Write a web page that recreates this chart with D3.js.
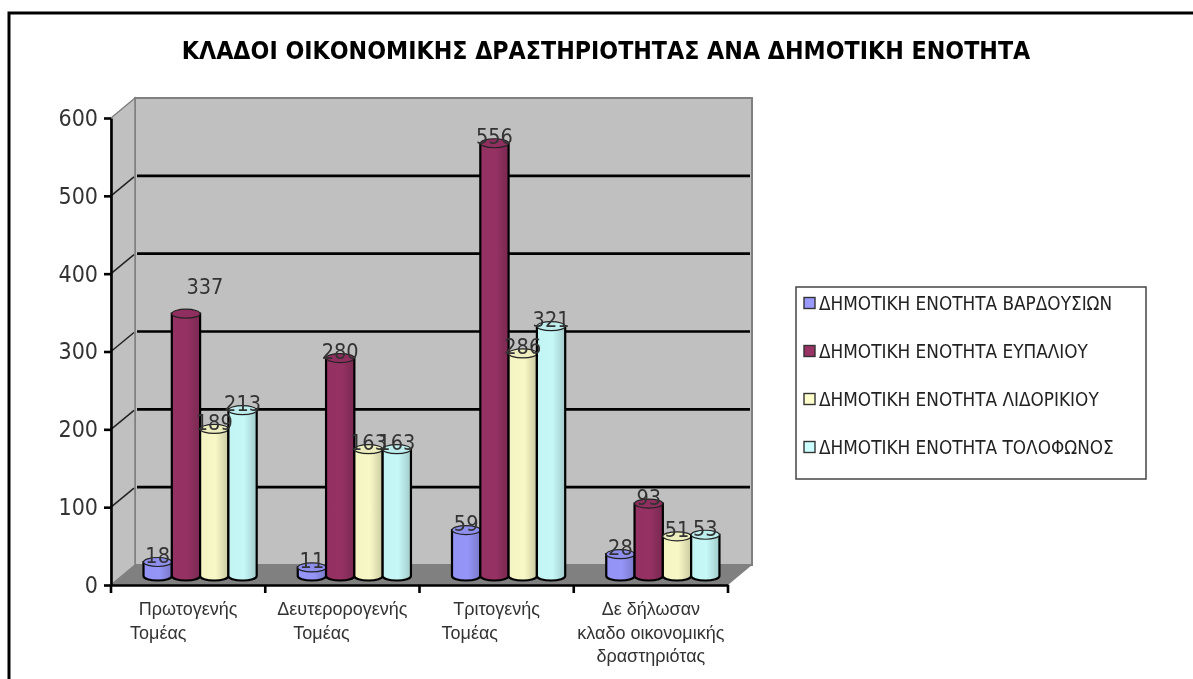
<!DOCTYPE html>
<html>
<head>
<meta charset="utf-8">
<script src="https://cdn.jsdelivr.net/npm/d3@7"></script>
<style>
  html, body { margin: 0; padding: 0; background: #fff; overflow: hidden; }
  svg { display: block; font-family: "DejaVu Sans Condensed", "DejaVu Sans", sans-serif; filter: blur(0.4px); }
</style>
</head>
<body>
<svg width="1193" height="679"></svg>
<script>
const titleText = 'ΚΛΑΔΟΙ ΟΙΚΟΝΟΜΙΚΗΣ ΔΡΑΣΤΗΡΙΟΤΗΤΑΣ ΑΝΑ ΔΗΜΟΤΙΚΗ ΕΝΟΤΗΤΑ';
const categories = ['Πρωτογενής Τομέας', 'Δευτερορογενής Τομέας', 'Τριτογενής Τομέας', 'Δε δήλωσαν κλαδο οικονομικής δραστηριότας'];
const categoryLines = [
  ['Πρωτογενής', 'Τομέας'],
  ['Δευτερορογενής', 'Τομέας'],
  ['Τριτογενής', 'Τομέας'],
  ['Δε δήλωσαν', 'κλαδο οικονομικής', 'δραστηριότας']
];
const seriesNames = [
  'ΔΗΜΟΤΙΚΗ ΕΝΟΤΗΤΑ ΒΑΡΔΟΥΣΙΩΝ',
  'ΔΗΜΟΤΙΚΗ ΕΝΟΤΗΤΑ ΕΥΠΑΛΙΟΥ',
  'ΔΗΜΟΤΙΚΗ ΕΝΟΤΗΤΑ ΛΙΔΟΡΙΚΙΟΥ',
  'ΔΗΜΟΤΙΚΗ ΕΝΟΤΗΤΑ ΤΟΛΟΦΩΝΟΣ'
];
const vardousion = [18, 11, 59, 28];
const efpaliou = [337, 280, 556, 93];
const lidorikiou = [189, 163, 286, 51];
const tolofonos = [213, 163, 321, 53];
const seriesValues = [vardousion, efpaliou, lidorikiou, tolofonos];
const yTicks = [0, 100, 200, 300, 400, 500, 600];
const seriesColors = ['#9999ff', '#993366', '#ffffcc', '#ccffff'];

const svg = d3.select('svg');

// outer frame, right and bottom edges are off the picture
svg.append('rect').attr('x', 9).attr('y', 13).attr('width', 1300).attr('height', 800)
  .attr('fill', '#fff').attr('stroke', '#000').attr('stroke-width', 3);

svg.append('text').attr('x', 606).attr('y', 59).attr('text-anchor', 'middle')
  .attr('font-weight', 'bold').attr('font-size', 24.7).attr('fill', '#000').text(titleText);

// scales, 3d depth is a fixed shift of the back wall
const depthX = 24, depthY = -20;
const axisLeft = 111, axisRight = 728;
const y = d3.scaleLinear().domain([0, 600]).range([585, 118]);
const x = d3.scaleBand().domain(categories).range([axisLeft, axisRight]);
const xInner = d3.scaleBand().domain(seriesNames).range([32.5, 32.5 + 4 * 28.3]);

// gradients for cylinders
const defs = svg.append('defs');
seriesColors.forEach((c, i) => {
  const g = defs.append('linearGradient').attr('id', 'cyl' + i);
  const col = d3.color(c);
  g.append('stop').attr('offset', '0%').attr('stop-color', col.darker(0.12));
  g.append('stop').attr('offset', '55%').attr('stop-color', col.darker(0.08));
  g.append('stop').attr('offset', '100%').attr('stop-color', col.darker(0.65));
});

// floor and walls
const wall = svg.append('g');
wall.append('rect').attr('x', axisLeft + depthX).attr('y', y(600) + depthY)
  .attr('width', axisRight - axisLeft).attr('height', y(0) - y(600))
  .attr('fill', '#c0c0c0').attr('stroke', '#808080').attr('stroke-width', 2);
wall.append('path')
  .attr('d', `M${axisLeft},${y(0)}L${axisLeft},${y(600)}L${axisLeft + depthX},${y(600) + depthY}L${axisLeft + depthX},${y(0) + depthY}Z`)
  .attr('fill', '#c0c0c0').attr('stroke', '#808080').attr('stroke-width', 1.5);
wall.append('path')
  .attr('d', `M${axisLeft},${y(0)}L${axisLeft + depthX},${y(0) + depthY}L${axisRight + depthX},${y(0) + depthY}L${axisRight},${y(0)}Z`)
  .attr('fill', '#808080');

// gridlines
yTicks.slice(1, -1).forEach(t => {
  wall.append('line').attr('x1', axisLeft).attr('y1', y(t)).attr('x2', axisLeft + depthX - 1).attr('y2', y(t) + depthY + 1)
    .attr('stroke', '#222').attr('stroke-width', 1.5);
  wall.append('line').attr('x1', axisLeft + depthX + 2).attr('y1', y(t) + depthY)
    .attr('x2', axisRight + depthX - 2).attr('y2', y(t) + depthY)
    .attr('stroke', '#000').attr('stroke-width', 2.6);
});

// axes
const yAxis = svg.append('g').attr('transform', `translate(${axisLeft},0)`)
  .call(d3.axisLeft(y).tickValues(yTicks).tickSize(7).tickPadding(6).tickSizeOuter(0));
yAxis.select('.domain').attr('stroke-width', 2.6);
yAxis.selectAll('.tick line').attr('stroke-width', 2.6);
yAxis.selectAll('.tick text').attr('font-family', '"DejaVu Sans Condensed"').attr('font-size', 23).attr('fill', '#333');

const xAxis = svg.append('g').attr('transform', `translate(0,${y(0)})`)
  .call(d3.axisBottom(x).tickValues([]).tickSizeOuter(0));
xAxis.select('.domain').attr('stroke-width', 2.6);
x.domain().concat([null]).forEach(c => {
  const px = c === null ? axisRight : x(c);
  xAxis.append('line').attr('x1', px).attr('x2', px).attr('y1', 0).attr('y2', 8)
    .attr('stroke', '#000').attr('stroke-width', 2.6);
});

// category labels, "Τομέας" sits left aligned and not centred in the original
const secondLineShift = [19, 28, 22];
categories.forEach((c, i) => {
  const lines = categoryLines[i];
  const t = svg.append('text').attr('font-size', 18).attr('fill', '#333').attr('font-family', '"Liberation Sans"');
  lines.forEach((l, j) => {
    let lx = x(c) + x.bandwidth() / 2, anchor = 'middle';
    if (lines.length === 2 && j === 1) { lx = x(c) + secondLineShift[i]; anchor = 'start'; }
    t.append('tspan').attr('x', lx).attr('y', 615 + j * 23.5).attr('text-anchor', anchor).text(l);
  });
});

// cylinders
const base = y(0) - 9;
const ry = 4.5;
const barTop = v => base - (y(0) - y(v));
seriesValues.forEach((vals, s) => {
  const g = svg.append('g');
  vals.forEach((v, i) => {
    const left = x(categories[i]) + xInner(seriesNames[s]);
    const w = xInner.bandwidth();
    const rx = w / 2;
    const top = barTop(v);
    g.append('path')
      .attr('d', `M${left},${top}L${left},${base}A${rx},${ry} 0 0 0 ${left + w},${base}L${left + w},${top}Z`)
      .attr('fill', `url(#cyl${s})`).attr('stroke', '#000').attr('stroke-width', 2.2);
    g.append('ellipse').attr('cx', left + rx).attr('cy', top).attr('rx', rx).attr('ry', ry)
      .attr('fill', d3.color(seriesColors[s]).darker(0.2)).attr('stroke', '#222').attr('stroke-width', 1.2);
  });
});

// value labels on top of bars, the 337 one is moved clear of its bar in the original
seriesValues.forEach((vals, s) => {
  vals.forEach((v, i) => {
    const left = x(categories[i]) + xInner(seriesNames[s]);
    const moved = s === 1 && i === 0;
    svg.append('text').attr('x', left + xInner.bandwidth() / 2 + (moved ? 19 : 0))
      .attr('y', barTop(v) + (moved ? -20 : 1))
      .attr('text-anchor', 'middle').attr('font-size', 21.5).attr('fill', '#333').text(v);
  });
});

// legend
const legend = svg.append('g');
legend.append('rect').attr('x', 796).attr('y', 287).attr('width', 350).attr('height', 192)
  .attr('fill', '#fff').attr('stroke', '#444').attr('stroke-width', 1.5);
const legendY = d3.scalePoint().domain(seriesNames).range([303, 447]);
seriesNames.forEach((n, i) => {
  legend.append('rect').attr('x', 804).attr('y', legendY(n) - 5.5).attr('width', 11).attr('height', 11)
    .attr('fill', seriesColors[i]).attr('stroke', '#333').attr('stroke-width', 1.4);
  legend.append('text').attr('x', 819).attr('y', legendY(n) + 6.5)
    .attr('font-size', 18.8).attr('fill', '#222').text(n);
});
</script>
</body>
</html>
